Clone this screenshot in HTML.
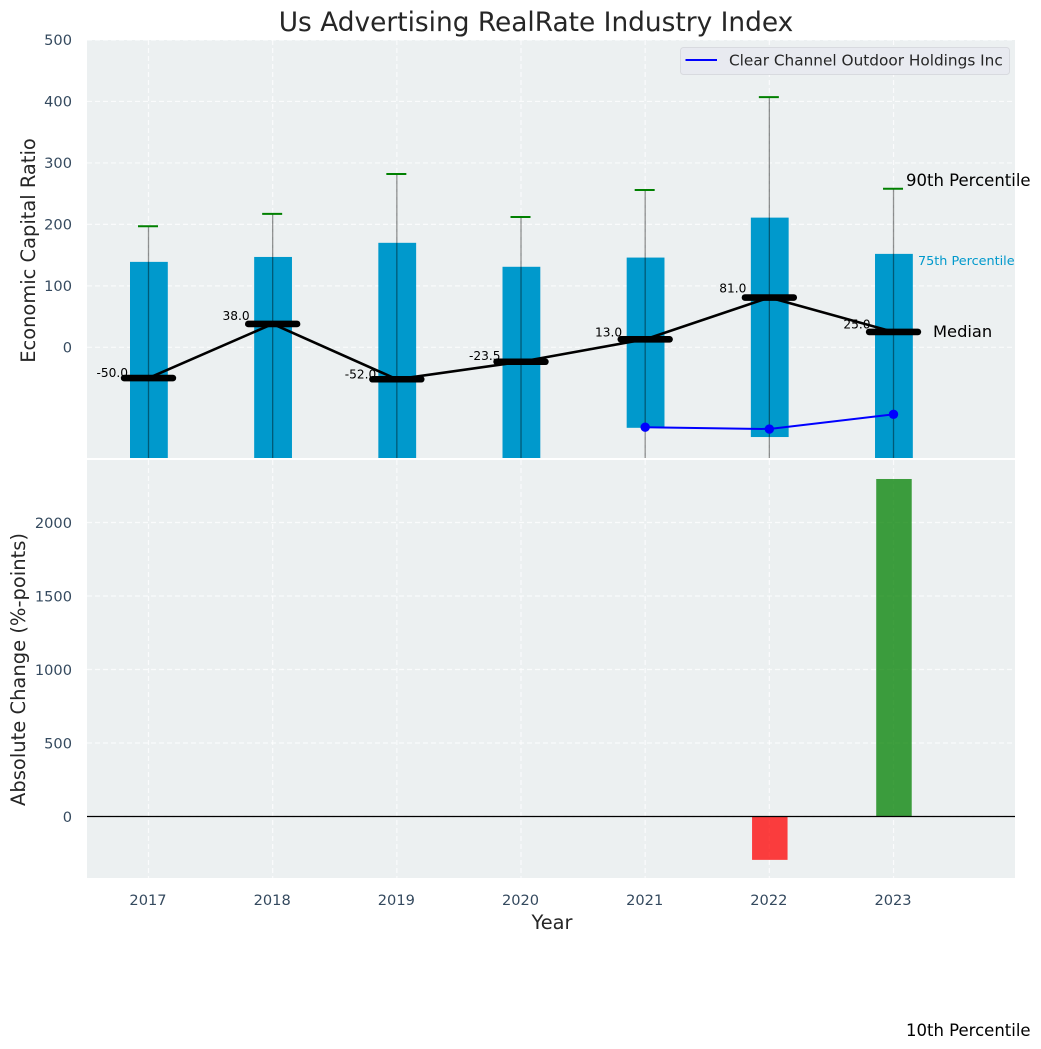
<!DOCTYPE html>
<html lang="en">
<head>
<meta charset="utf-8">
<title>Us Advertising RealRate Industry Index</title>
<style>
html,body{margin:0;padding:0;background:#fff;}
svg{display:block;font-family:"DejaVu Sans","Liberation Sans",sans-serif;}
</style>
</head>
<body>
<svg id="chart" xmlns="http://www.w3.org/2000/svg" width="1041" height="1049" viewBox="0 0 1041 1049">
  <defs>
    <clipPath id="clip-top"><rect x="87" y="40" width="928" height="418"/></clipPath>
    <clipPath id="clip-bottom"><rect x="87" y="460" width="928" height="418"/></clipPath>
  </defs>
  <rect x="87" y="40" width="928" height="418" fill="#ecf0f1"/>
  <rect x="87" y="460" width="928" height="418" fill="#ecf0f1"/>
  <g id="grid"></g>
  <g id="top-marks" clip-path="url(#clip-top)"></g>
  <g id="bottom-marks" clip-path="url(#clip-bottom)"></g>
  <g id="labels"></g>
  <text x="536" y="31" font-size="26.4" fill="#262626" text-anchor="middle">Us Advertising RealRate Industry Index</text>
  <text transform="translate(35,250.5) rotate(-90)" font-size="19.45" fill="#262626" text-anchor="middle">Economic Capital Ratio</text>
  <text transform="translate(25,669.5) rotate(-90)" font-size="19.5" fill="#262626" text-anchor="middle">Absolute Change (%-points)</text>
  <text x="552" y="929" font-size="19.4" fill="#262626" text-anchor="middle">Year</text>
  <g>
    <rect x="680.5" y="47.5" width="329" height="27" rx="3" fill="#e8eaf0" stroke="#d8dadf" stroke-width="1"/>
    <line x1="685.5" x2="717" y1="60" y2="60" stroke="#0000ff" stroke-width="2"/>
    <text x="729" y="65.5" font-size="15.3" fill="#262626">Clear Channel Outdoor Holdings Inc</text>
  </g>
  <text x="906" y="186" font-size="16.5" fill="#000">90th Percentile</text>
  <text x="918" y="265" font-size="12.8" fill="#0099cc">75th Percentile</text>
  <text x="933" y="337" font-size="16.3" fill="#000">Median</text>
  <text x="906" y="1036" font-size="16.5" fill="#000">10th Percentile</text>
</svg>
<script>
const years = [2017, 2018, 2019, 2020, 2021, 2022, 2023];
const p90 = [197, 217, 282, 212, 256, 407, 258];
const p75 = [139, 147, 170, 131, 146, 211, 152];
const p25 = [-230, -220, -240, -210, -131, -146, -200];
const p10 = [-320, -310, -330, -300, -260, -280, -290];
const medians = [-50, 38, -52, -23.5, 13, 81, 25];
const companyYears = [2021, 2022, 2023];
const companyValues = [-130, -133, -109];
const changeYears = [2022, 2023];
const changeValues = [-295, 2296];
const topTicks = [0, 100, 200, 300, 400, 500];
const bottomTicks = [0, 500, 1000, 1500, 2000];

const NS = 'http://www.w3.org/2000/svg';
const xScale = y => 148.5 + (y - 2017) * 124.17;
const yTop = v => 347.3 - v * 0.6146;
const yBottom = v => 816.5 - v * 0.147;

function make(parent, tag, attrs, text) {
  const el = document.createElementNS(NS, tag);
  for (const k in attrs) el.setAttribute(k, attrs[k]);
  if (text !== undefined) el.textContent = text;
  parent.appendChild(el);
  return el;
}

const grid = document.getElementById('grid');
const top_ = document.getElementById('top-marks');
const bottom = document.getElementById('bottom-marks');
const labels = document.getElementById('labels');
const gridStyle = {stroke: '#ffffff', 'stroke-width': 1.2, 'stroke-dasharray': '5 3', 'stroke-opacity': 0.75};

topTicks.forEach(t => {
  const line = make(grid, 'line', Object.assign({x1: 87, x2: 1015, y1: yTop(t), y2: yTop(t)}, gridStyle));
  
  
  const label = make(labels, 'text', {x: 72, y: yTop(t) + 5, 'font-size': 14.6, fill: '#34495e', 'text-anchor': 'end'}, String(t));
  
  
});

bottomTicks.forEach(t => {
  const line = make(grid, 'line', Object.assign({x1: 87, x2: 1015, y1: yBottom(t), y2: yBottom(t)}, gridStyle));
  
  
  const label = make(labels, 'text', {x: 72, y: yBottom(t) + 5.5, 'font-size': 14.6, fill: '#34495e', 'text-anchor': 'end'}, String(t));
  
  
});

years.forEach(y => {
  const a = make(grid, 'line', Object.assign({x1: xScale(y), x2: xScale(y), y1: 40, y2: 458}, gridStyle));
  
  
  const b = make(grid, 'line', Object.assign({x1: xScale(y), x2: xScale(y), y1: 460, y2: 878}, gridStyle));
  
  
  const label = make(labels, 'text', {x: xScale(y) - 0.5, y: 905, 'font-size': 14.6, fill: '#34495e', 'text-anchor': 'middle'}, String(y));
  
  
});

years.forEach((y, i) => {
  const bar = make(top_, 'rect', {x: xScale(y) - 18.5, y: yTop(p75[i]), width: 37.8, height: yTop(p25[i]) - yTop(p75[i]), fill: '#0099cc'});
  
  
  const whisker = make(top_, 'line', {x1: xScale(y), x2: xScale(y), y1: yTop(p90[i]), y2: yTop(p10[i]), stroke: '#000', 'stroke-width': 1.3, 'stroke-opacity': 0.42});
  
  
  const cap = make(top_, 'line', {x1: xScale(y) - 10.5, x2: xScale(y) + 9.5, y1: yTop(p90[i]), y2: yTop(p90[i]), stroke: '#008000', 'stroke-width': 2});
  
  
});

const medianLine = make(top_, 'polyline', {points: years.map((y, i) => xScale(y) + ',' + yTop(medians[i])).join(' '), fill: 'none', stroke: '#000', 'stroke-width': 2.6});



years.forEach((y, i) => {
  const m = make(top_, 'line', {x1: xScale(y) - 24.4, x2: xScale(y) + 24.4, y1: yTop(medians[i]), y2: yTop(medians[i]), stroke: '#000', 'stroke-width': 6.6, 'stroke-linecap': 'round'});
  
  
  const t = make(labels, 'text', {x: xScale(y) + (medians[i] < 0 ? -20.5 : -23), y: yTop(medians[i] * 1.05) - 2.6, 'font-size': 12.2, fill: '#000', 'text-anchor': 'end'}, medians[i].toFixed(1));
  
  
});

const companyLine = make(top_, 'polyline', {points: companyYears.map((y, i) => xScale(y) + ',' + yTop(companyValues[i])).join(' '), fill: 'none', stroke: '#0000ff', 'stroke-width': 2});


companyYears.forEach((y, i) => {
  const p = make(top_, 'circle', {cx: xScale(y), cy: yTop(companyValues[i]), r: 4.7, fill: '#0000ff'});
  
  
});

changeYears.forEach((y, i) => {
  const v = changeValues[i];
  const r = make(bottom, 'rect', {x: xScale(y) - 17.3, y: Math.min(yBottom(0), yBottom(v)), width: 35.5, height: Math.abs(yBottom(v) - yBottom(0)), fill: v >= 0 ? '#008000' : '#ff0000', 'fill-opacity': 0.75});
  
  
});
const zero = make(bottom, 'line', {x1: 87, x2: 1015, y1: yBottom(0), y2: yBottom(0), stroke: '#000', 'stroke-width': 1.3});


</script>
</body>
</html>
